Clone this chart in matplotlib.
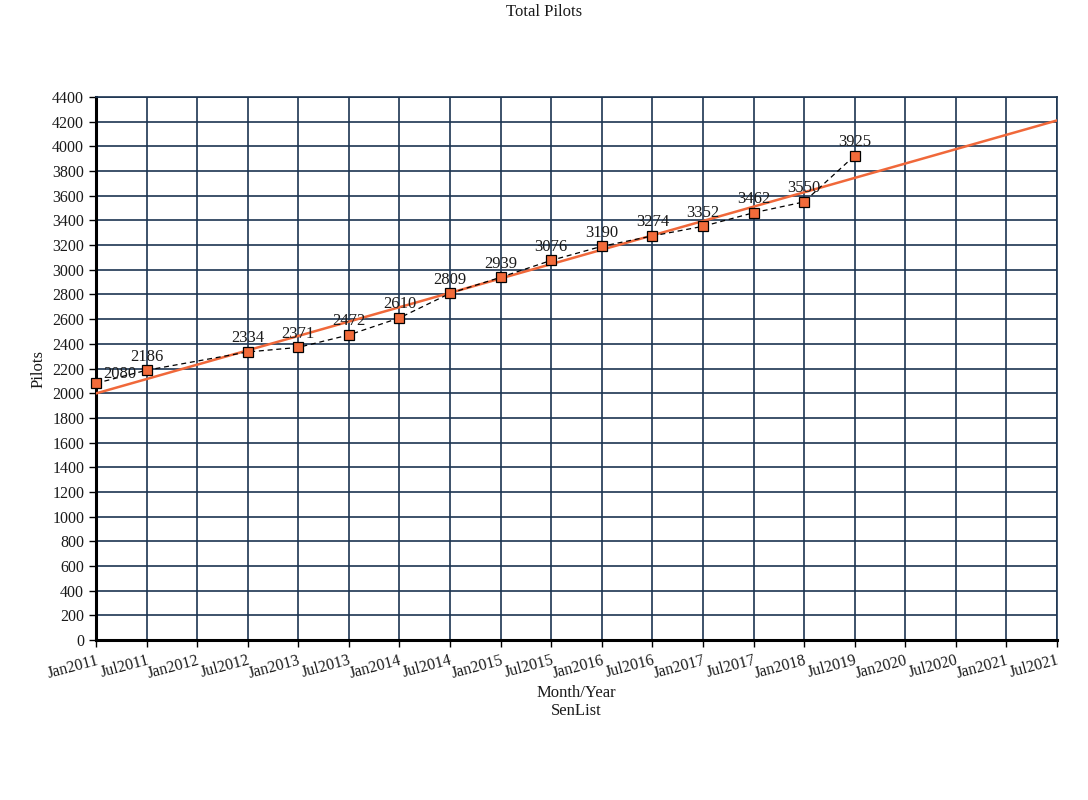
import numpy as np
import matplotlib.pyplot as plt

plt.rcParams['font.family'] = ['Liberation Serif', 'DejaVu Serif']

tick_labels = ['Jan2011', 'Jul2011', 'Jan2012', 'Jul2012', 'Jan2013', 'Jul2013',
               'Jan2014', 'Jul2014', 'Jan2015', 'Jul2015', 'Jan2016', 'Jul2016',
               'Jan2017', 'Jul2017', 'Jan2018', 'Jul2019', 'Jan2020', 'Jul2020',
               'Jan2021', 'Jul2021']
point_idx = [0, 1, 3, 4, 5, 6, 7, 8, 9, 10, 11, 12, 13, 14, 15]
pilots = [2080, 2186, 2334, 2371, 2472, 2610, 2809, 2939, 3076, 3190,
          3274, 3352, 3462, 3550, 3925]
trend_idx = [0, 19]
trend_vals = [1998, 4210]

grid_col = '#1c3552'

fig = plt.figure(figsize=(10.88, 8), dpi=100)
ax = fig.add_axes([0.0882, 0.2, 0.8833, 0.67875])

ax.plot(trend_idx, trend_vals, color='#f0683a', lw=1.8, zorder=3)
ax.plot(point_idx, pilots, color='black', ls=(0, (4, 3)), lw=0.9, zorder=4,
        marker='s', markersize=7, markerfacecolor='#f26b3a',
        markeredgecolor='black', markeredgewidth=0.9, clip_on=False)

for i, (x, v) in enumerate(zip(point_idx, pilots)):
    if i == 0:
        ax.annotate(str(v), (x, v), xytext=(5, 1), textcoords='offset points',
                    ha='left', va='bottom', fontsize=12, color='#1a1a1a', zorder=5)
    else:
        ax.annotate(str(v), (x, v), xytext=(0, 4), textcoords='offset points',
                    ha='center', va='bottom', fontsize=12, color='#1a1a1a', zorder=5)

ax.set_xlim(0, len(tick_labels) - 1)
ax.set_ylim(0, 4400)
ax.set_xticks(range(len(tick_labels)))
ax.set_xticklabels(tick_labels, rotation=15, ha='right', rotation_mode='anchor',
                   fontsize=11.5, color='#1a1a1a')
ax.set_yticks(range(0, 4401, 200))
ax.tick_params(axis='y', labelsize=11.5, labelcolor='#1a1a1a', length=5, width=1, direction='out')
ax.tick_params(axis='x', length=5, width=1, direction='out', pad=4)
ax.grid(True, color=grid_col, lw=1.2, zorder=1)
ax.set_axisbelow(True)

for s in ['top', 'right']:
    ax.spines[s].set_color(grid_col)
    ax.spines[s].set_linewidth(1.2)
for s in ['left', 'bottom']:
    ax.spines[s].set_color('black')
    ax.spines[s].set_linewidth(2.2)

ax.set_xlabel('Month/Year\nSenList', fontsize=12, color='#1a1a1a', labelpad=2)
ax.set_ylabel('Pilots', fontsize=12, color='#1a1a1a', labelpad=4)
fig.suptitle('Total Pilots', y=0.995, fontsize=12, color='#1a1a1a')

fig.savefig('out.png', dpi=100)
